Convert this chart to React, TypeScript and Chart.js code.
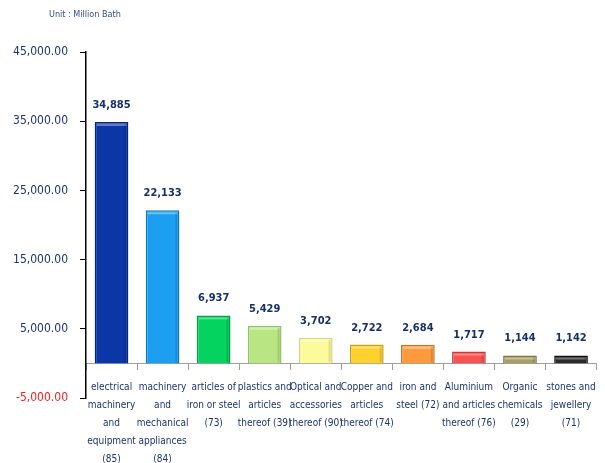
import React, { useEffect, useRef } from "react";
import { Chart, registerables } from "chart.js";

Chart.register(...registerables);

const categories: string[][] = [
  ["electrical", "machinery", "and", "equipment", "(85)"],
  ["machinery", "and", "mechanical", "appliances", "(84)"],
  ["articles of", "iron or steel", "(73)"],
  ["plastics and", "articles", "thereof (39)"],
  ["Optical and", "accessories", "thereof (90)"],
  ["Copper and", "articles", "thereof (74)"],
  ["iron and", "steel (72)"],
  ["Aluminium", "and articles", "thereof (76)"],
  ["Organic", "chemicals", "(29)"],
  ["stones and", "jewellery", "(71)"],
];
const values: number[] = [34885, 22133, 6937, 5429, 3702, 2722, 2684, 1717, 1144, 1142];
const yTicks: number[] = [-5000, 5000, 15000, 25000, 35000, 45000];
const unitText = "Unit : Million Bath";

const barColors = [
  "#0a36a6", "#1c9ff0", "#05d35f", "#b9e683", "#fbfb9c",
  "#fdd22e", "#fd9a3e", "#f95250", "#a99e66", "#2b2b2b",
];
const borderColors = [
  "#062676", "#1479bb", "#04a049", "#93c068", "#d6d67e",
  "#c9a21a", "#c9732a", "#c23a38", "#7e7448", "#111111",
];

const NARROW = "'DejaVu Sans Condensed', 'Liberation Sans Narrow', sans-serif";
const NAVY = "#1d3470";

const labelPlugin = {
  id: "valueLabels",
  afterDatasetsDraw(chart: any) {
    const ctx = chart.ctx;
    const meta = chart.getDatasetMeta(0);
    ctx.save();
    // bevel highlight on each bar
    meta.data.forEach((bar: any) => {
      const w = bar.width;
      const left = bar.x - w / 2;
      const top = bar.y;
      const h = bar.base - bar.y;
      ctx.fillStyle = "rgba(255,255,255,0.35)";
      ctx.fillRect(left + 2, top + 2, w - 4, Math.min(2, h - 3));
      ctx.fillStyle = "rgba(0,0,0,0.12)";
      ctx.fillRect(left + w - 4, top + 2, 2, Math.max(0, h - 3));
    });
    ctx.font = `bold 11px ${NARROW}`;
    ctx.fillStyle = "#17306a";
    ctx.textAlign = "center";
    ctx.textBaseline = "alphabetic";
    meta.data.forEach((bar: any, i: number) => {
      ctx.fillText(values[i].toLocaleString("en-US"), bar.x, bar.y - 14);
    });
    ctx.font = `9px ${NARROW}`;
    ctx.fillStyle = "#34507e";
    ctx.textAlign = "left";
    ctx.textBaseline = "middle";
    ctx.fillText(unitText, 49, 15);
    ctx.restore();
  },
};

export default function App() {
  const ref = useRef<HTMLCanvasElement | null>(null);
  useEffect(() => {
    if (!ref.current) return;
    const chart = new Chart(ref.current, {
      type: "bar",
      data: {
        labels: categories,
        datasets: [
          {
            data: values,
            backgroundColor: barColors,
            borderColor: borderColors,
            borderWidth: 1.5,
            barPercentage: 0.66,
            categoryPercentage: 1,
          },
        ],
      },
      options: {
        animation: false,
        responsive: false,
        maintainAspectRatio: false,
        layout: { padding: { top: 52, bottom: 65, left: 0, right: 5 } },
        plugins: { legend: { display: false }, tooltip: { enabled: false }, title: { display: false } },
        scales: {
          x: {
            position: { y: 0 } as any,
            grid: {
              drawOnChartArea: false,
              drawTicks: true,
              tickLength: 6,
              color: "#a0a0a0",
              offset: true,
            },
            border: { color: "#a0a0a0", width: 1 },
            ticks: {
              autoSkip: false,
              maxRotation: 0,
              minRotation: 0,
              padding: 9,
              color: NAVY,
              font: { family: NARROW, size: 10, lineHeight: 1.8 },
            },
          },
          y: {
            min: -5000,
            max: 45000,
            afterBuildTicks: (s: any) => {
              s.ticks = yTicks.map((v) => ({ value: v }));
            },
            afterFit: (s: any) => {
              s.width = 86;
            },
            grid: {
              drawOnChartArea: false,
              drawTicks: true,
              tickLength: 6,
              color: "#000000",
            },
            border: { color: "#000000", width: 1.5 },
            ticks: {
              padding: 12,
              color: (c: any) => (c.tick && c.tick.value < 0 ? "#ff1a1a" : NAVY),
              font: { family: NARROW, size: 12 },
              callback: (v: any) =>
                Number(v).toLocaleString("en-US", { minimumFractionDigits: 2, maximumFractionDigits: 2 }),
            },
          },
        },
      },
      plugins: [labelPlugin],
    });
    return () => chart.destroy();
  }, []);
  return (
    <div style={{ position: "fixed", left: 0, top: 0, width: 605, height: 463, background: "#ffffff" }}>
      <canvas ref={ref} width={605} height={463} style={{ width: 605, height: 463 }} />
    </div>
  );
}
